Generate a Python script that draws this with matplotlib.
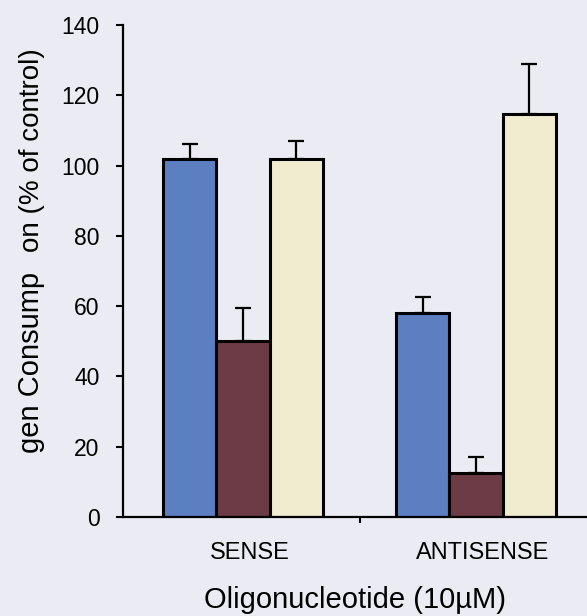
import matplotlib.pyplot as plt
import numpy as np

plt.rcParams['font.family'] = ['Liberation Sans', 'DejaVu Sans']

groups = ['SENSE', 'ANTISENSE']
blue_vals = [102, 58]
blue_err = [4, 4.6]
brown_vals = [50, 12.5]
brown_err = [9.4, 4.6]
cream_vals = [102, 114.7]
cream_err = [5, 14.2]
yticks = [0, 20, 40, 60, 80, 100, 120, 140]

bg = '#ebebf3'
fig = plt.figure(figsize=(5.87, 6.16), dpi=100, facecolor=bg)
ax = fig.add_axes([123/587, 99/616, 1 - 123/587, 492/616])
ax.set_facecolor(bg)

x = np.arange(len(groups))
w = 0.229
series = [(blue_vals, blue_err, '#5b7fc1', -w),
          (brown_vals, brown_err, '#6c3b45', 0),
          (cream_vals, cream_err, '#f1ecd0', w)]
for vals, err, col, off in series:
    ax.bar(x + off, vals, w, color=col, edgecolor='black', linewidth=2.2, zorder=2)
    ax.errorbar(x + off, vals, yerr=[np.zeros(len(vals)), err], fmt='none',
                ecolor='black', elinewidth=1.6, capsize=6, capthick=1.6, zorder=1)

ax.set_xlim(-0.515, 1.476)
ax.set_ylim(0, 140)
ax.set_yticks(yticks)
ax.tick_params(axis='y', direction='out', length=5, width=1.5, pad=12, labelsize=16.5)
ax.set_xticks(x + 0.03)
ax.set_xticklabels(groups, fontsize=17)
ax.tick_params(axis='x', length=0, pad=18)
ax.set_xticks([0.5], minor=True)
ax.tick_params(axis='x', which='minor', length=4, width=1.5)

for s in ['top', 'right']:
    ax.spines[s].set_visible(False)
for s in ['left', 'bottom']:
    ax.spines[s].set_linewidth(1.6)

ax.set_xlabel('Oligonucleotide (10\u00b5M)', fontsize=21, labelpad=16)

# y-axis caption, split where the print is broken
fig.text(39/587, 1 - 453/616, 'gen Consump', rotation=90, rotation_mode='anchor',
         ha='left', va='baseline', fontsize=21)
fig.text(39/587, 1 - 252/616, 'on (% of control)', rotation=90, rotation_mode='anchor',
         ha='left', va='baseline', fontsize=20)

plt.savefig('out.png', dpi=100, facecolor=bg)
